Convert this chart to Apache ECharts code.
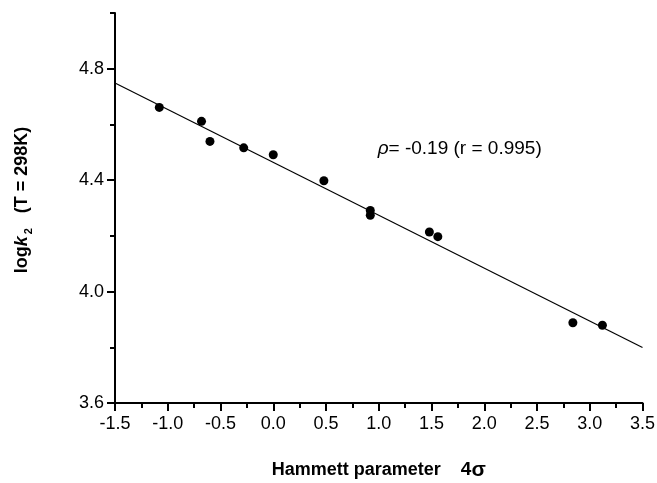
<!DOCTYPE html>
<html>
<head>
<meta charset="utf-8">
<script src="https://cdn.jsdelivr.net/npm/echarts@6/dist/echarts.min.js"></script>
<style>
html,body{margin:0;padding:0;background:#fff;}
#chart{width:657px;height:483px;}
</style>
</head>
<body>
<div id="chart"></div>
<script>
// Hammett parameter 4σ (x) and log k2 (y) of the measured points
const sigma4 = [-1.08, -0.68, -0.60, -0.28, 0.00, 0.48, 0.92, 0.92, 1.48, 1.56, 2.84, 3.12];
const logk2  = [4.661, 4.611, 4.539, 4.516, 4.491, 4.398, 4.291, 4.274, 4.214, 4.197, 3.888, 3.879];
// fitted regression line end points
const fitX = [-1.5, 3.5];
const fitY = [4.749, 3.799];
// axis ticks
const xTicks = [-1.5, -1.0, -0.5, 0.0, 0.5, 1.0, 1.5, 2.0, 2.5, 3.0, 3.5];
const yMajorTicks = [3.6, 4.0, 4.4, 4.8];
const yMinorTicks = [3.8, 4.2, 4.6, 5.0];
// annotation
const annotText = '{r|ρ}{t|= -0.19 (r = 0.995)}';
const annotAt = [0.99, 4.513];

const FONT = '"Liberation Sans", Arial, sans-serif';
const chart = echarts.init(document.getElementById('chart'), null, {renderer: 'canvas'});

const pts = sigma4.map((x, i) => [x, logk2[i]]);
const fit = fitX.map((x, i) => [x, fitY[i]]);

chart.setOption({
  animation: false,
  backgroundColor: '#ffffff',
  textStyle: {fontFamily: FONT},
  grid: {left: 115, right: 14.5, top: 13, bottom: 80, containLabel: false, outerBoundsMode: 'none'},
  xAxis: {
    type: 'value',
    min: xTicks[0], max: xTicks[xTicks.length - 1], interval: 0.5,
    axisLine: {show: true, onZero: false, lineStyle: {color: '#000', width: 2}},
    axisTick: {show: true, inside: false, length: 8, lineStyle: {color: '#000', width: 2}},
    minorTick: {show: true, splitNumber: 2, length: 5, lineStyle: {color: '#000', width: 2}},
    splitLine: {show: false},
    axisLabel: {color: '#000', fontSize: 18, fontFamily: FONT, margin: 12,
      formatter: v => v.toFixed(1)},
    name: '{b|Hammett parameter    }{n|4}{g|σ}',
    nameLocation: 'middle', nameGap: 56,
    nameTextStyle: {color: '#000', fontSize: 18, fontWeight: 'bold', fontFamily: FONT,
      rich: {
        b: {fontSize: 18, fontWeight: 'bold', fontFamily: FONT, color: '#000', lineHeight: 22, verticalAlign: 'middle'},
        n: {fontSize: 19, fontWeight: 'bold', fontFamily: FONT, color: '#000', lineHeight: 22, verticalAlign: 'middle'},
        g: {fontSize: 21, fontWeight: 'bold', fontFamily: FONT, color: '#000', lineHeight: 22, verticalAlign: 'middle'}
      }}
  },
  yAxis: [{
    type: 'value',
    min: 3.6, max: 5.0,
    position: 'left',
    axisLine: {show: true, onZero: false, lineStyle: {color: '#000', width: 2}},
    axisTick: {show: true, inside: false, length: 8, customValues: yMajorTicks, lineStyle: {color: '#000', width: 2}},
    splitLine: {show: false},
    axisLabel: {color: '#000', fontSize: 18, fontFamily: FONT, margin: 11, customValues: yMajorTicks,
      formatter: v => Number(v).toFixed(1)},
    name: '{b|log}{k|k}{s|2}{b|   (T = 298K)}',
    nameLocation: 'middle', nameGap: 81,
    nameTextStyle: {
      color: '#000', fontSize: 18, fontWeight: 'bold', fontFamily: FONT,
      padding: [0, 0, 0, 16],
      rich: {
        b: {fontSize: 18, fontWeight: 'bold', fontFamily: FONT, color: '#000', lineHeight: 24, verticalAlign: 'middle'},
        k: {fontSize: 18, fontWeight: 'bold', fontStyle: 'italic', fontFamily: FONT, color: '#000', lineHeight: 24, verticalAlign: 'middle'},
        s: {fontSize: 11, fontWeight: 'bold', fontFamily: FONT, color: '#000', lineHeight: 11, verticalAlign: 'bottom', padding: [0, 0, 0, 2]}
      }
    }
  }, {
    type: 'value',
    min: 3.6, max: 5.0,
    position: 'left',
    axisLine: {show: false, onZero: false},
    axisTick: {show: true, inside: false, length: 5, customValues: yMinorTicks, lineStyle: {color: '#000', width: 2}},
    axisLabel: {show: false},
    splitLine: {show: false}
  }],
  series: [{
    type: 'line',
    data: fit,
    showSymbol: false,
    symbol: 'none',
    lineStyle: {color: '#000', width: 1.2},
    z: 2
  }, {
    type: 'scatter',
    data: pts,
    symbol: 'circle',
    symbolSize: 9,
    itemStyle: {color: '#000', opacity: 1},
    z: 3
  }, {
    type: 'scatter',
    data: [annotAt],
    symbolSize: 0,
    silent: true,
    itemStyle: {opacity: 1},
    label: {
      show: true, position: 'right', distance: 0, color: '#000', opacity: 1,
      formatter: annotText,
      rich: {
        r: {fontSize: 19, fontStyle: 'italic', fontFamily: FONT, color: '#000'},
        t: {fontSize: 19, fontFamily: FONT, color: '#000'}
      }
    }
  }]
});
</script>
</body>
</html>
